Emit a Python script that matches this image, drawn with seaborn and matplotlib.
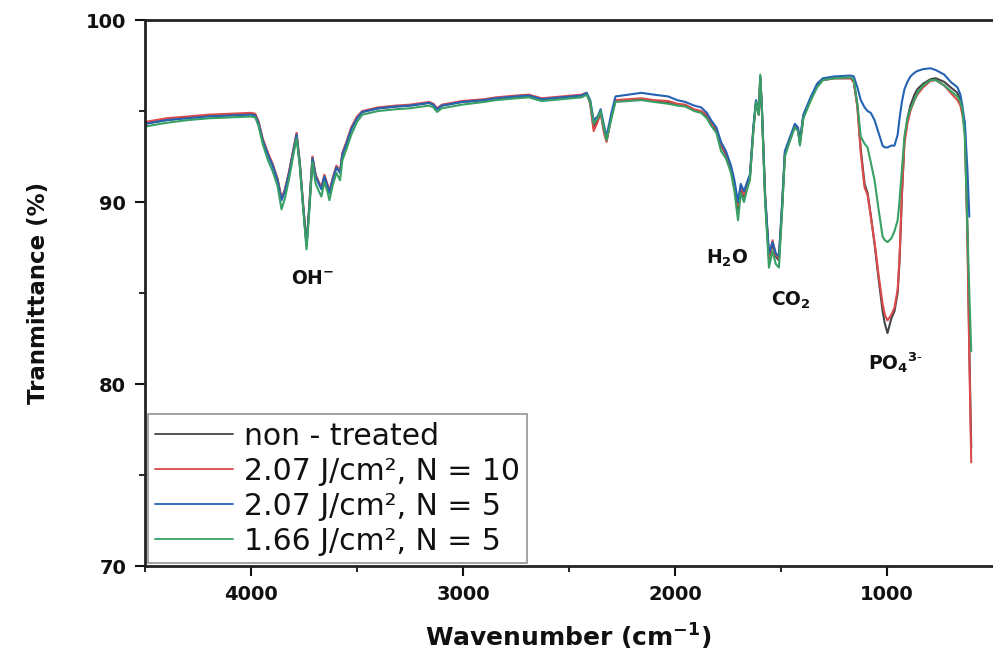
import numpy as np
import pandas as pd
import matplotlib
matplotlib.use("Agg")
import matplotlib.pyplot as plt
import seaborn as sns
from matplotlib.ticker import MultipleLocator

nan = np.nan

wavenumber = [
    4500, 4400, 4300, 4200, 4100, 4000, 3980, 3965, 3945, 3920,
    3898, 3875, 3856, 3840, 3820, 3800, 3785, 3770, 3755, 3738,
    3725, 3710, 3695, 3680, 3668, 3654, 3640, 3630, 3615, 3597,
    3580, 3569, 3550, 3527, 3500, 3475, 3400, 3315, 3250, 3160,
    3140, 3122, 3100, 3005, 2900, 2845, 2750, 2690, 2629, 2580,
    2535, 2441, 2417, 2400, 2384, 2365, 2351, 2335, 2323, 2300,
    2281, 2220, 2159, 2100, 2032, 1990, 1952, 1910, 1877, 1850,
    1830, 1805, 1783, 1760, 1736, 1720, 1703, 1690, 1675, 1660,
    1647, 1630, 1618, 1605, 1598, 1590, 1575, 1557, 1540, 1525,
    1510, 1495, 1482, 1460, 1435, 1420, 1411, 1395, 1359, 1330,
    1303, 1250, 1171, 1157, 1140, 1124, 1106, 1092, 1077, 1059,
    1040, 1021, 1010, 998, 980, 965, 950, 941, 930, 918,
    904, 890, 871, 857, 830, 795, 770, 730, 700, 668,
    654, 645, 633, 621, 612, 603,
]

non_treated = [
    94.3, 94.5, 94.65, 94.75, 94.8, 94.85, 94.8, 94.4, 93.45, 92.65,
    92.05, 91.25, 90.15, 90.65, 91.65, 92.85, 93.75, 92.15, 89.95, 87.65,
    89.75, 92.45, 91.45, 91.05, 90.75, 91.45, 90.95, 90.55, 91.25, 91.95,
    91.65, 92.65, 93.25, 94.05, 94.65, 94.95, 95.15, 95.25, 95.3, 95.45,
    95.35, 95.1, 95.3, 95.5, 95.6, 95.7, 95.8, 95.85, 95.65, 95.7,
    95.75, 95.85, 95.95, 95.45, 94.1, 94.5, 94.95, 93.9, 93.4, 94.7,
    95.55, 95.6, 95.65, 95.55, 95.45, 95.35, 95.3, 95.05, 94.95, 94.7,
    94.35, 93.9, 93.1, 92.6, 91.8, 90.9, 89.6, 90.8, 90.3, 90.9,
    91.3, 94.05, 95.5, 94.8, 96.85, 95.0, 90.2, 86.9, 87.7, 87.0,
    86.8, 89.7, 92.6, 93.35, 94.15, 93.95, 93.2, 94.65, 95.65, 96.35,
    96.7, 96.8, 96.8, 96.6, 95.3, 92.9, 91.0, 90.5, 89.3, 87.7,
    85.8, 84.0, 83.3, 82.8, 83.6, 84.0, 85.0, 86.8, 90.3, 93.4,
    94.6, 95.3, 95.9, 96.2, 96.5, 96.75, 96.8, 96.6, 96.3, 96.0,
    95.6, 95.0, 94.3, 88.5, 82.0, 76.5,
]

f207_n10 = [
    94.4, 94.6, 94.7, 94.8, 94.85, 94.9, 94.85, 94.45, 93.5, 92.7,
    92.1, 91.3, 90.2, 90.7, 91.7, 92.9, 93.8, 92.2, 90.0, 87.7,
    89.8, 92.5, 91.5, 91.1, 90.8, 91.5, 91.0, 90.6, 91.3, 92.0,
    91.7, 92.7, 93.3, 94.1, 94.7, 95.0, 95.2, 95.3, 95.35, 95.5,
    95.4, 95.15, 95.35, 95.55, 95.65, 95.75, 95.85, 95.9, 95.7, 95.75,
    95.8, 95.9, 96.0, 95.4, 93.9, 94.4, 94.9, 93.8, 93.3, 94.7,
    95.6, 95.65, 95.7, 95.6, 95.55, 95.4, 95.35, 95.1, 95.0, 94.8,
    94.4, 94.0, 93.2, 92.7, 91.9, 91.0, 89.8, 90.9, 90.4, 91.0,
    91.4, 94.1, 95.5, 94.8, 96.8, 95.0, 90.3, 87.0, 87.9, 87.1,
    86.9, 89.8, 92.7, 93.4, 94.2, 94.0, 93.3, 94.7, 95.7, 96.4,
    96.7, 96.8, 96.8, 96.6, 95.2, 92.7, 90.8, 90.4, 89.2, 87.8,
    86.0, 84.4, 83.8, 83.5, 83.8, 84.2, 85.2, 87.0, 90.5, 93.2,
    94.3, 95.0, 95.6, 95.9, 96.3, 96.65, 96.7, 96.4, 96.0, 95.6,
    95.3, 94.8, 94.0, 88.0, 81.5, 75.7,
]

f207_n5 = [
    94.3, 94.5, 94.6, 94.7, 94.75, 94.8, 94.75, 94.35, 93.4, 92.6,
    92.0, 91.2, 90.1, 90.6, 91.6, 92.8, 93.7, 92.1, 89.9, 87.6,
    89.7, 92.4, 91.4, 91.0, 90.7, 91.4, 90.9, 90.5, 91.2, 91.9,
    91.6, 92.6, 93.2, 94.0, 94.6, 94.95, 95.15, 95.25, 95.3, 95.45,
    95.35, 95.1, 95.3, 95.5, 95.6, 95.7, 95.8, 95.85, 95.65, 95.7,
    95.75, 95.85, 96.0, 95.6, 94.5, 94.7, 95.1, 94.2, 93.6, 94.9,
    95.8, 95.9, 96.0, 95.9, 95.8, 95.6, 95.5, 95.3, 95.2, 94.9,
    94.5, 94.1, 93.3, 92.8, 92.0, 91.2, 90.0, 91.0, 90.6, 91.1,
    91.5, 94.2, 95.6, 94.9, 96.9, 95.1, 90.4, 87.2, 87.8, 87.2,
    87.0, 89.9, 92.8, 93.5, 94.3, 94.1, 93.4, 94.8, 95.8, 96.5,
    96.8, 96.9, 96.95, 96.9, 96.3, 95.6, 95.2, 95.0, 94.9, 94.5,
    93.8, 93.1, 93.0, 93.0, 93.1, 93.1, 93.7, 94.6, 95.5, 96.2,
    96.6, 96.9, 97.1, 97.2, 97.3, 97.35, 97.25, 97.0, 96.6, 96.3,
    95.9, 95.3, 94.3, 91.8, 89.2, nan,
]

f166_n5 = [
    94.15, 94.35, 94.5, 94.6, 94.65, 94.7, 94.65, 94.2, 93.2, 92.3,
    91.7, 90.9, 89.6, 90.2, 91.3, 92.6, 93.5, 92.0, 89.8, 87.4,
    89.5, 92.2, 91.0, 90.6, 90.3, 91.1, 90.6, 90.1, 90.9, 91.6,
    91.2, 92.3, 92.9, 93.7, 94.4, 94.8, 95.0, 95.1, 95.15, 95.3,
    95.2, 94.95, 95.15, 95.35, 95.5, 95.6, 95.7, 95.75, 95.55, 95.6,
    95.65, 95.75, 95.9, 95.5, 94.3, 94.6, 95.0, 94.0, 93.4, 94.6,
    95.5, 95.55, 95.6, 95.5, 95.4, 95.3, 95.25, 95.0, 94.9, 94.6,
    94.2, 93.8, 92.8, 92.4, 91.6, 90.6, 89.0, 90.5, 90.0, 90.7,
    91.2, 94.0, 95.5, 94.8, 97.0, 95.0, 90.0, 86.4, 87.3, 86.6,
    86.4, 89.5, 92.5, 93.3, 94.1, 93.9, 93.1, 94.6, 95.6, 96.3,
    96.7, 96.8, 96.85, 96.7, 95.4, 93.6, 93.2, 93.0, 92.2, 91.2,
    89.6, 88.1, 87.9, 87.8, 88.0, 88.4, 89.0, 90.1, 91.8, 93.6,
    94.6, 95.1, 95.6, 96.0, 96.4, 96.7, 96.7, 96.4, 96.1, 95.8,
    95.5, 95.1, 93.5, 88.5, 85.0, 81.8,
]

labels = ["non - treated", "2.07 J/cm\u00b2, N = 10", "2.07 J/cm\u00b2, N = 5", "1.66 J/cm\u00b2, N = 5"]
colors = ["#454545", "#dc4a4a", "#2463b4", "#38a064"]

annotations = [
    (3809, 85.8, r"OH$^{-}$"),
    (1853, 86.9, r"H$_{2}$O"),
    (1547, 84.6, r"CO$_{2}$"),
    (1091, 81.2, r"PO$_{4}$$^{3\text{-}}$"),
]

frames = []
for lab, vals in zip(labels, [non_treated, f207_n10, f207_n5, f166_n5]):
    frames.append(pd.DataFrame({"wn": wavenumber, "T": vals, "sample": lab}))
df = pd.concat(frames, ignore_index=True)

sns.set_theme(style="ticks")
plt.rcParams["font.family"] = ["DejaVu Sans"]
plt.rcParams["mathtext.fontset"] = "dejavusans"
plt.rcParams["mathtext.default"] = "bf"
plt.rcParams["text.color"] = "#111111"
plt.rcParams["axes.labelcolor"] = "#111111"

fig = plt.figure(figsize=(9.93, 6.56), dpi=100)
ax = fig.add_axes([0.146, 0.137, 0.853, 0.8325])

sns.lineplot(data=df, x="wn", y="T", hue="sample", hue_order=labels,
             palette=dict(zip(labels, colors)), sort=False, estimator=None,
             linewidth=1.5, ax=ax)

ax.set_xlim(4500, 505)
ax.set_ylim(70, 100)
ax.xaxis.set_major_locator(MultipleLocator(1000))
ax.xaxis.set_minor_locator(MultipleLocator(500))
ax.yaxis.set_major_locator(MultipleLocator(10))
ax.yaxis.set_minor_locator(MultipleLocator(5))
ax.tick_params(axis="both", which="major", length=7.5, width=1.5, labelsize=14, pad=6,
               colors="#111111")
ax.tick_params(axis="both", which="minor", length=4, width=1.3, colors="#111111")
for t in ax.get_xticklabels() + ax.get_yticklabels():
    t.set_fontweight("bold")
for s in ["left", "bottom", "top"]:
    ax.spines[s].set_linewidth(2)
    ax.spines[s].set_color("#222222")
ax.spines["right"].set_visible(False)

ax.set_xlabel(r"Wavenumber (cm$^{-1}$)", fontsize=18, fontweight="bold", labelpad=13)
ax.set_ylabel("Tranmittance (%)", fontsize=16.5, fontweight="bold", labelpad=26)

for x, y, s in annotations:
    ax.text(x, y, s, fontsize=13.5, fontweight="bold", ha="left", va="center", color="#111111")

leg = ax.get_legend()
handles = leg.legend_handles
texts = [t.get_text() for t in leg.get_texts()]
leg.remove()
new_leg = ax.legend(handles, texts, loc="lower left", bbox_to_anchor=(0.0, 0.0),
                    borderaxespad=0.1, fontsize=21.5, handlelength=2.6, handletextpad=0.35,
                    labelspacing=0.2, frameon=True, fancybox=False, borderpad=0.25)
new_leg.get_frame().set_edgecolor("#777777")
new_leg.get_frame().set_linewidth(1.2)
for h in new_leg.legend_handles:
    h.set_linewidth(1.3)
for t in new_leg.get_texts():
    t.set_color("#111111")

fig.savefig("out.png", dpi=100)
